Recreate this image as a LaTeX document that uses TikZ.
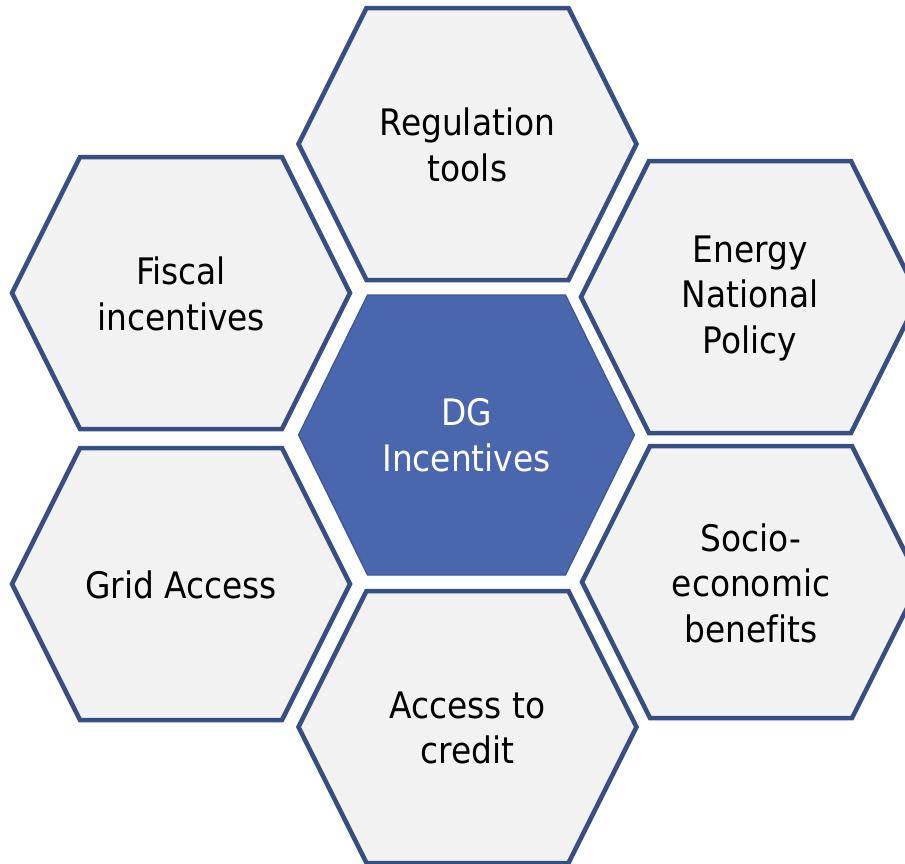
\documentclass[tikz,border=0pt]{standalone}
\usepackage{fontspec}
\setmainfont[Ligatures=NoCommon]{DejaVu Sans Condensed}
\usepackage{tikz}
\usetikzlibrary{backgrounds}
\usepackage{xcolor}

\definecolor{cellborder}{HTML}{374E82}
\definecolor{cellfill}{HTML}{F2F2F2}
\definecolor{corefill}{HTML}{4A67AD}
\definecolor{coreborder}{HTML}{3B5595}

\begin{document}
\begin{tikzpicture}[
  x=1pt, y=-1pt,
  celltext/.style={align=center, inner sep=0pt, font=\fontsize{36.5}{45.5}\selectfont},
  cell/.style={draw=cellborder, fill=cellfill, line width=4.5pt, line join=miter},
  core/.style={draw=coreborder, fill=corefill, line width=1.2pt},
  hexagon/.style={insert path={++(-169,0) -- ++(68,-136) -- ++(202,0) -- ++(68,136) -- ++(-68,136) -- ++(-202,0) -- cycle}},
  corehexagon/.style={insert path={++(-168,0) -- ++(69,-140) -- ++(198,0) -- ++(69,140) -- ++(-69,140) -- ++(-198,0) -- cycle}}
]
  \useasboundingbox (0,0) rectangle (905,863);
  \clip (0,0) rectangle (905,863);

  % Centre cell
  \node[celltext, text=white] (dg) at (466.5,435) {DG\\Incentives};

  % Ring of cells
  \node[celltext] (regulation) at (467.5,145) {Regulation\\tools};
  \node[celltext] (fiscal) at (181,294) {Fiscal\\incentives};
  \node[celltext] (energy) at (750,298) {Energy\\National\\Policy};
  \node[celltext] (grid) at (181,585) {Grid Access};
  \node[celltext] (socio) at (751,583) {Socio-\\economic\\benefits};
  \node[celltext] (credit) at (467.5,728) {Access to\\credit};

  % Hexagons behind the labels
  \begin{scope}[on background layer]
    \draw[core] (dg.center) [corehexagon];
    \draw[cell] (regulation.center) ++(0,-1) [hexagon];
    \draw[cell] (fiscal.center) ++(0,-1) [hexagon];
    \draw[cell] (energy.center) ++(0,-1) [hexagon];
    \draw[cell] (grid.center) ++(0,-1) [hexagon];
    \draw[cell] (socio.center) ++(0,-1) [hexagon];
    \draw[cell] (credit.center) ++(0,-1) [hexagon];
  \end{scope}
\end{tikzpicture}
\end{document}
